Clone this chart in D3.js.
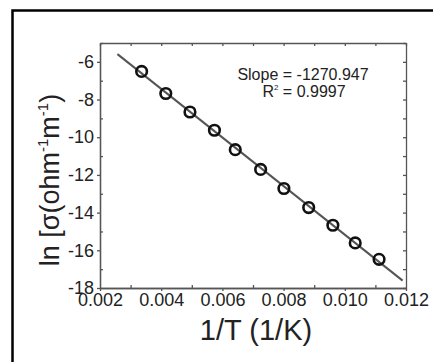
<!DOCTYPE html>
<html lang="en">
<head>
  <meta charset="UTF-8">
  <title>ln sigma vs 1/T</title>
  <script src="https://d3js.org/d3.v7.min.js"></script>
  <style>
    body {
      margin: 0;
      background: #fff;
      font-family: 'Liberation Sans', Arial, sans-serif;
    }
    svg { display: block; }
    .axis path, .axis line { stroke: #555; stroke-width: 1.3; }
    .axis text { fill: #222; font-size: 18px; font-family: 'Liberation Sans', Arial, sans-serif; }
  </style>
</head>
<body>
<svg id="chart" width="433" height="362"></svg>
<script>
// measured points
const invT = [0.00336, 0.00415, 0.00494, 0.00574, 0.00642, 0.00725, 0.00801, 0.00882, 0.00961, 0.01034, 0.01112];
const lnSigma = [-6.51, -7.68, -8.66, -9.63, -10.66, -11.71, -12.72, -13.73, -14.67, -15.61, -16.48];
// linear fit line ends
const fitX = [0.00257, 0.01189];
const fitY = [-5.59, -17.61];
const xTicks = [0.002, 0.004, 0.006, 0.008, 0.010, 0.012];
const yTicks = [-18, -16, -14, -12, -10, -8, -6];
const xMinor = [0.003, 0.005, 0.007, 0.009, 0.011];
const yMinor = [-17, -15, -13, -11, -9, -7, -5];

const margin = {top: 43, left: 100};
const width = 306, height = 245;

const svg = d3.select("#chart");

// outer frame
svg.append("path")
  .attr("d", "M12.5,362 V10.5 H433")
  .attr("fill", "none")
  .attr("stroke", "#000")
  .attr("stroke-width", 2.5);

const g = svg.append("g").attr("transform", `translate(${margin.left},${margin.top})`);

const x = d3.scaleLinear().domain([0.002, 0.012]).range([0, width]);
const y = d3.scaleLinear().domain([-18, -5]).range([height, 0]);

// bottom axis: major outward, minor inward
g.append("g").attr("class", "axis").attr("transform", `translate(0,${height})`)
  .call(d3.axisBottom(x).tickValues(xTicks).tickFormat(d3.format(".3f")).tickSizeInner(3).tickSizeOuter(0).tickPadding(2));
g.append("g").attr("class", "axis").attr("transform", `translate(0,${height})`)
  .call(d3.axisBottom(x).tickValues(xMinor).tickFormat("").tickSizeInner(-3).tickSizeOuter(0));

// left axis (plain hyphen as in the original)
g.append("g").attr("class", "axis")
  .call(d3.axisLeft(y).tickValues(yTicks).tickFormat(d => String(d)).tickSizeInner(3).tickSizeOuter(0).tickPadding(3));
g.append("g").attr("class", "axis")
  .call(d3.axisLeft(y).tickValues(yMinor).tickFormat("").tickSizeInner(-3).tickSizeOuter(0));

// top and right mirror axes, ticks inward
g.append("g").attr("class", "axis")
  .call(d3.axisTop(x).tickValues(xTicks.concat(xMinor)).tickFormat("").tickSizeInner(-3).tickSizeOuter(0));
g.append("g").attr("class", "axis").attr("transform", `translate(${width},0)`)
  .call(d3.axisRight(y).tickValues(yTicks.concat(yMinor)).tickFormat("").tickSizeInner(-3).tickSizeOuter(0));

g.selectAll(".axis .domain").attr("stroke-width", 1.6);

// fit line
g.append("path")
  .datum(fitX.map((d, i) => [d, fitY[i]]))
  .attr("fill", "none")
  .attr("stroke", "#555")
  .attr("stroke-width", 2)
  .attr("d", d3.line().x(d => x(d[0])).y(d => y(d[1])));

// data circles
g.selectAll("circle")
  .data(invT.map((d, i) => [d, lnSigma[i]]))
  .join("circle")
  .attr("cx", d => x(d[0]))
  .attr("cy", d => y(d[1]))
  .attr("r", 5.3)
  .attr("fill", "none")
  .attr("stroke", "#111")
  .attr("stroke-width", 2.6);

// annotation
const ann = svg.append("text")
  .attr("text-anchor", "middle")
  .attr("font-size", 16)
  .attr("fill", "#222");
ann.append("tspan").attr("x", 303).attr("y", 80).text("Slope = -1270.947");
const r2 = ann.append("tspan").attr("x", 304).attr("y", 97);
r2.append("tspan").text("R");
r2.append("tspan").attr("font-size", 8).attr("dy", -7).text("2");
r2.append("tspan").attr("dy", 7).text(" = 0.9997");

// axis titles
svg.append("text")
  .attr("x", 256)
  .attr("y", 340)
  .attr("text-anchor", "middle")
  .attr("font-size", 29)
  .attr("fill", "#222")
  .text("1/T (1/K)");

const yt = svg.append("text")
  .attr("transform", "translate(59,180) rotate(-90)")
  .attr("text-anchor", "middle")
  .attr("font-size", 27)
  .attr("fill", "#222");
yt.append("tspan").text("ln [σ(ohm");
yt.append("tspan").attr("font-size", 15).attr("dy", -11).text("-1");
yt.append("tspan").attr("dy", 11).text("m");
yt.append("tspan").attr("font-size", 15).attr("dy", -11).text("-1");
yt.append("tspan").attr("dy", 11).text(")");
</script>
</body>
</html>
